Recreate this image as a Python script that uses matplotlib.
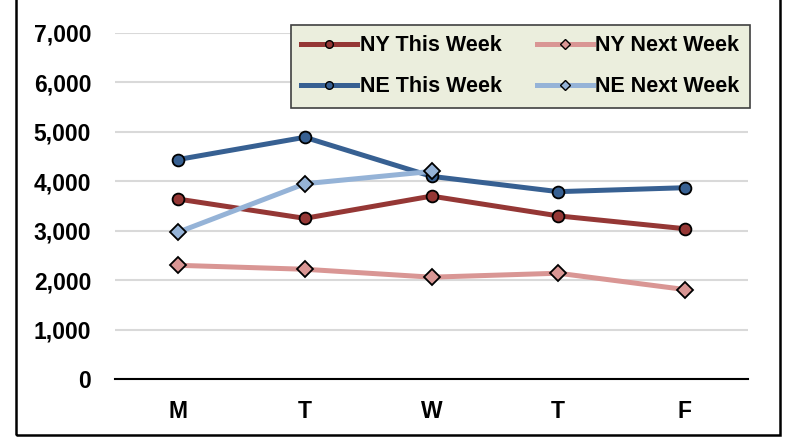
import matplotlib
matplotlib.use("Agg")
import matplotlib.pyplot as plt
from matplotlib.lines import Line2D
from matplotlib.patches import Rectangle
from matplotlib.ticker import FuncFormatter

days = ["M", "T", "W", "T", "F"]
ny_this = [3640, 3250, 3700, 3300, 3040]
ny_next = [2300, 2220, 2060, 2140, 1810]
ne_this = [4440, 4890, 4100, 3790, 3870]
ne_next = [2970, 3950, 4200]

plt.rcParams["font.family"] = ["Liberation Sans", "DejaVu Sans"]
plt.rcParams["font.weight"] = "bold"

fig = plt.figure(figsize=(7.86, 4.38), dpi=100)
ax = fig.add_axes([0.146, 0.1347, 0.806, 0.79])

x = list(range(len(days)))
series = [
    ("NY This Week", ny_this, "#953735", "o", 8.5),
    ("NY Next Week", ny_next, "#D99694", "D", 8.5),
    ("NE This Week", ne_this, "#376092", "o", 8.5),
    ("NE Next Week", ne_next, "#95B3D7", "D", 8.5),
]
handles = {}
for name, vals, col, mk, ms in series:
    ax.plot(x[:len(vals)], vals, color=col, lw=3.6, marker=mk, ms=ms,
            mfc=col, mec="black", mew=1.3, zorder=3)
    handles[name] = Line2D([], [], color=col, lw=3.6, marker=mk,
                           ms=5.5 if mk == "o" else 5, mfc=col, mec="black", mew=1.0)

ax.set_xlim(-0.5, 4.5)
ax.set_ylim(0, 7000)
ax.set_yticks(range(0, 7001, 1000))
ax.yaxis.set_major_formatter(FuncFormatter(lambda v, p: f"{int(v):,}"))
ax.set_xticks(x)
ax.set_xticklabels(days)
ax.tick_params(length=0, labelsize=16.5)
ax.tick_params(axis="x", pad=15)
ax.tick_params(axis="y", pad=17)
ax.grid(True, axis="y", color="#D9D9D9", lw=1.5)
ax.set_axisbelow(True)
for s in ["top", "right", "left"]:
    ax.spines[s].set_visible(False)
ax.spines["bottom"].set_linewidth(1.5)
ax.spines["bottom"].set_zorder(2)

order = ["NY This Week", "NE This Week", "NY Next Week", "NE Next Week"]
leg = ax.legend([handles[n] for n in order], order, ncol=2, loc="upper right",
                bbox_to_anchor=(1.003, 1.024), fontsize=15.5, handlelength=2.6,
                handletextpad=0.1, columnspacing=1.65, labelspacing=0.92,
                borderpad=0.5, borderaxespad=0, fancybox=False, framealpha=1)
leg.get_frame().set_facecolor("#EBEEDD")
leg.get_frame().set_edgecolor("#404040")
leg.get_frame().set_linewidth(1.2)

fig.patches.append(Rectangle((16 / 786, 3 / 438), 764 / 786, 1.0, transform=fig.transFigure,
                             fill=False, edgecolor="black", lw=1.8))

fig.savefig("out.png", dpi=100, facecolor="white")
